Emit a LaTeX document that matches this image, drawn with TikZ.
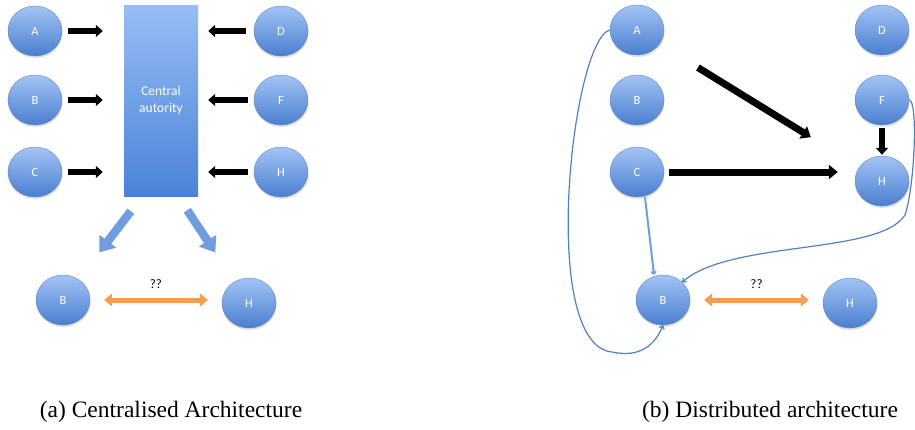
\documentclass[tikz,border=0pt]{standalone}
\usepackage{fontspec}
\setmainfont{Liberation Serif}
\newfontfamily\peerfont{Carlito}
\newfontfamily\capfont{Liberation Serif}
\usetikzlibrary{shapes.geometric,arrows.meta,shadows}
\definecolor{balltop}{HTML}{A3C4F5}
\definecolor{ballbot}{HTML}{4A7ECF}
\definecolor{balledge}{HTML}{5B86C9}
\definecolor{rectop}{HTML}{98BDF6}
\definecolor{recbot}{HTML}{4A83D6}
\definecolor{linkblue}{HTML}{4F81BD}
\definecolor{beamblue}{HTML}{6F9DE0}
\definecolor{swaporange}{HTML}{F79E55}
\tikzstyle{peer} = [ellipse, minimum width=54pt, minimum height=50pt, inner sep=0pt, top color=balltop, bottom color=ballbot, draw=balledge, line width=0.4pt, text=white, font=\peerfont\fontsize{12.5}{14}\selectfont, drop shadow={opacity=0.25, shadow xshift=0.5pt, shadow yshift=-2pt}]
\tikzstyle{authority} = [rectangle, minimum width=74pt, minimum height=191pt, inner sep=0pt, top color=rectop, bottom color=recbot, text=white, align=center, font=\peerfont\fontsize{13.5}{17}\selectfont]
\tikzstyle{push} = [line width=6pt, -{Triangle[length=7pt, width=12pt]}]
\tikzstyle{bigpush} = [line width=7pt, -{Triangle[length=9pt, width=14pt]}]
\tikzstyle{beam} = [line width=8.5pt, draw=beamblue, -{Triangle[length=14pt, width=20pt]}]
\tikzstyle{swap} = [line width=5pt, draw=swaporange, {Triangle[length=8pt, width=13pt]}-{Triangle[length=8pt, width=13pt]}]
\tikzstyle{link} = [line width=1.2pt, draw=linkblue, -{To[length=4pt, width=6pt]}]
\tikzstyle{caption} = [anchor=base, inner sep=0pt, font=\capfont\fontsize{23.5}{28}\selectfont]
\newcommand{\qq}{node (q) [midway, above=8pt, inner sep=1pt, font=\peerfont\fontsize{13}{15}\selectfont] {??}}

\begin{document}
\begin{tikzpicture}[x=1pt, y=-1pt]
			\useasboundingbox (0,0) rectangle (915,429);
			% centralised
			\node (ca) [authority] at (161,100.5) {Central\\autority};
			\node (a1) [peer] at (35,31) {A};
			\node (b1) [peer] at (35,100) {B};
			\node (c1) [peer] at (35,172) {C};
			\node (d1) [peer] at (281,31) {D};
			\node (f1) [peer] at (281,100) {F};
			\node (h1) [peer] at (281,172) {H};
			\node (bb1) [peer] at (63,300) {B};
			\node (hh1) [peer] at (249,303) {H};
			\draw[push, shorten <=6pt, shorten >=21pt] (a1.east) -- (a1.east -| ca.west);
			\draw[push, shorten <=6pt, shorten >=21pt] (b1.east) -- (b1.east -| ca.west);
			\draw[push, shorten <=6pt, shorten >=21pt] (c1.east) -- (c1.east -| ca.west);
			\draw[push, shorten <=8pt, shorten >=10pt] (d1.west) -- (d1.west -| ca.east);
			\draw[push, shorten <=6pt, shorten >=10pt] (f1.west) -- (f1.west -| ca.east);
			\draw[push, shorten <=6pt, shorten >=10pt] (h1.west) -- (h1.west -| ca.east);
			\draw[beam, shorten >=34pt] ([shift={(7,15)}]ca.south west) -- (bb1);
			\draw[beam, shorten >=35pt] ([shift={(-11,14)}]ca.south east) -- (hh1);
			\draw[swap, shorten <=14pt, shorten >=14pt] (bb1.east) -- (bb1.east -| hh1.west) \qq;
			% distributed
			\node (a2) [peer] at (637,30) {A};
			\node (b2) [peer] at (637,100) {B};
			\node (c2) [peer] at (637,172) {C};
			\node (d2) [peer] at (882,30) {D};
			\node (f2) [peer] at (882,100) {F};
			\node (h2) [peer] at (882,181) {H};
			\node (bb2) [peer] at (663,300) {B};
			\node (hh2) [peer] at (850,303) {H};
			\draw[bigpush, shorten <=45pt, shorten >=57pt] (a2) -- (h2);
			\draw[bigpush, shorten <=5pt, shorten >=17pt] (c2.east) -- (c2.east -| h2.west);
			\draw[push, shorten <=3pt, shorten >=1pt] (f2.south) -- (h2.north);
			\draw[link, line width=2pt, draw=beamblue] ([xshift=8pt]c2.south) -- ([xshift=-9pt]bb2.north);
			\draw[link] (a2.west) .. controls (572,40) and (538,345) .. (612,352) .. controls (640,358) and (655,345) .. (bb2.south);
			\draw[link] (f2.east) .. controls (918,100) and (915,185) .. (905,215) .. controls (880,255) and (730,240) .. (bb2.north east);
			\draw[swap, shorten <=14pt, shorten >=14pt] (bb2.east) -- (bb2.east -| hh2.west) \qq;
			% captions
			\node (capa) [caption] at (171,417) {(a) Centralised Architecture};
			\node (capb) [caption] at (770,417) {(b) Distributed architecture};
		\end{tikzpicture}
\end{document}
